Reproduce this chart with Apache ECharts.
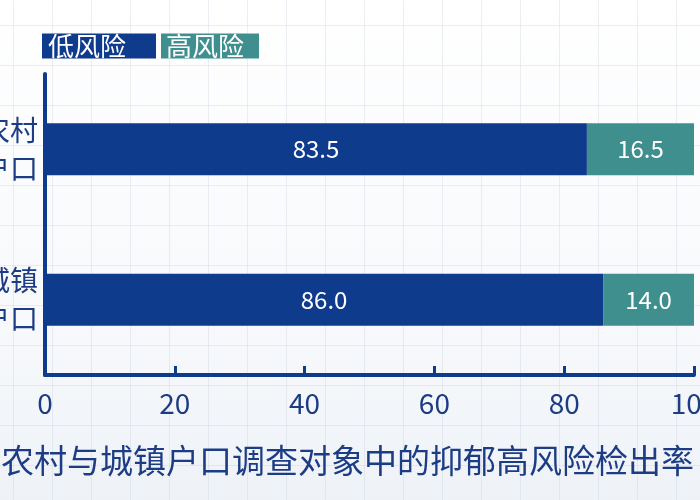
<!DOCTYPE html>
<html>
<head>
<meta charset="utf-8">
<script src="https://cdn.jsdelivr.net/npm/echarts@6/dist/echarts.min.js"></script>
<style>
    html, body { margin: 0; padding: 0; }
    #main {
        width: 700px; height: 500px;
        background-color: #fbfcfd;
        background-image:
            linear-gradient(to right, rgba(200,208,222,0.35) 1px, transparent 1px),
            linear-gradient(to bottom, rgba(200,208,222,0.35) 1px, transparent 1px),
            linear-gradient(to bottom, #ffffff 0%, #f6f8fb 70%, #eef2f7 100%);
        background-size: 39px 40px, 39px 40px, 100% 100%;
        background-position: 13px 25px, 13px 25px, 0 0;
    }
</style>
</head>
<body>
<div id="main"></div>
<script>
// 数据
var categories = ['农村\n户口', '城镇\n户口'];
var lowRisk = [83.5, 86.0];
var highRisk = [16.5, 14.0];
var xTicks = [0, 20, 40, 60, 80, 100];

var darkBlue = '#0f3b8d';
var teal = '#3f8f8e';
var textBlue = '#1c3c84';

var chartObj = echarts.init(document.getElementById('main'));

var chartOpt = {
    animation: false,
    title: {
        text: '农村与城镇户口调查对象中的抑郁高风险检出率',
        left: -4,
        top: 439,
        textStyle: {
            fontFamily: 'Noto Sans CJK SC',
            fontSize: 33,
            fontWeight: 'normal',
            color: textBlue
        }
    },
    legend: {
        left: 32,
        top: 28,
        itemWidth: 0,
        itemHeight: 0,
        itemGap: 0,
        selectedMode: false,
        icon: 'rect',
        data: [
            { name: '低风险', textStyle: { backgroundColor: darkBlue, padding: [0, 30, 0, 6] } },
            { name: '高风险', textStyle: { backgroundColor: teal, padding: [0, 15, 0, 5] } }
        ],
        textStyle: {
            fontFamily: 'Noto Sans CJK SC',
            fontSize: 26,
            lineHeight: 25,
            height: 25,
            color: '#ffffff'
        }
    },
    grid: {
        left: 45,
        right: 6,
        top: 74,
        bottom: 125,
        containLabel: false,
        outerBoundsMode: 'none'
    },
    xAxis: {
        type: 'value',
        min: xTicks[0],
        max: xTicks[xTicks.length - 1],
        interval: 20,
        axisLine: { show: true, lineStyle: { color: darkBlue, width: 4 } },
        axisTick: { show: true, inside: true, length: 9, lineStyle: { color: darkBlue, width: 3 } },
        splitLine: { show: false },
        axisLabel: {
            fontFamily: 'Noto Sans CJK SC',
            fontSize: 28,
            color: textBlue,
            margin: 14
        }
    },
    yAxis: {
        type: 'category',
        inverse: true,
        data: categories,
        axisLine: { show: true, lineStyle: { color: darkBlue, width: 4 } },
        axisTick: { show: false },
        axisLabel: {
            fontFamily: 'Noto Sans CJK SC',
            fontSize: 28,
            lineHeight: 38,
            color: textBlue,
            margin: 7
        }
    },
    series: [
        {
            name: '低风险',
            type: 'bar',
            stack: 'total',
            barWidth: 52,
            data: lowRisk,
            itemStyle: { color: darkBlue },
            label: {
                show: true,
                position: 'inside',
                color: '#ffffff',
                fontFamily: 'Noto Sans CJK SC',
                fontSize: 24,
                formatter: function (p) { return p.value.toFixed(1); }
            }
        },
        {
            name: '高风险',
            type: 'bar',
            stack: 'total',
            barWidth: 52,
            data: highRisk,
            itemStyle: { color: teal },
            label: {
                show: true,
                position: 'inside',
                color: '#ffffff',
                fontFamily: 'Noto Sans CJK SC',
                fontSize: 24,
                formatter: function (p) { return p.value.toFixed(1); }
            }
        }
    ]
};

chartObj.setOption(chartOpt);
</script>
</body>
</html>
